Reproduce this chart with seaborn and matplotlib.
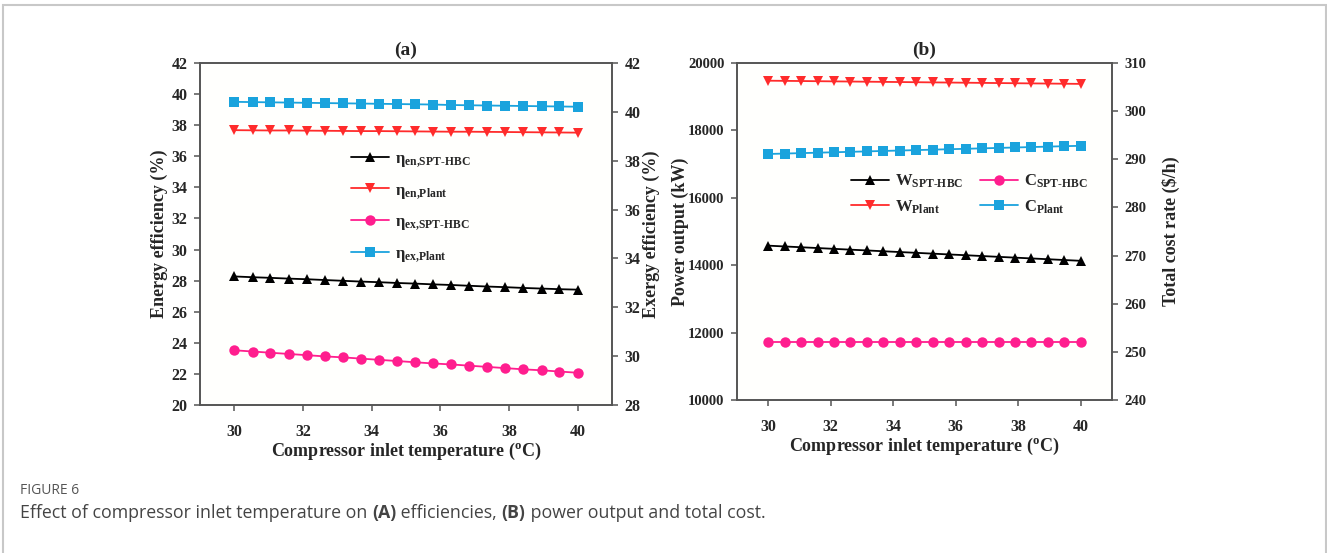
import matplotlib
matplotlib.use("Agg")
import matplotlib.pyplot as plt
from matplotlib.patches import Rectangle
import seaborn as sns
import pandas as pd

# ---------------- data ----------------
temp = [30.00, 30.53, 31.05, 31.58, 32.11, 32.63, 33.16, 33.68, 34.21, 34.74,
        35.26, 35.79, 36.32, 36.84, 37.37, 37.89, 38.42, 38.95, 39.47, 40.00]

eta_en_spt = [28.27, 28.22, 28.18, 28.13, 28.09, 28.04, 27.99, 27.94, 27.90, 27.85,
              27.81, 27.76, 27.72, 27.67, 27.62, 27.58, 27.53, 27.49, 27.45, 27.42]
eta_en_plant = [37.68, 37.67, 37.66, 37.66, 37.65, 37.64, 37.63, 37.62, 37.62, 37.61,
                37.60, 37.59, 37.58, 37.58, 37.57, 37.56, 37.55, 37.54, 37.53, 37.52]
eta_ex_spt = [30.24, 30.19, 30.14, 30.09, 30.04, 29.99, 29.95, 29.90, 29.85, 29.80,
              29.75, 29.70, 29.66, 29.61, 29.56, 29.51, 29.46, 29.42, 29.37, 29.32]
eta_ex_plant = [40.41, 40.40, 40.39, 40.38, 40.37, 40.36, 40.35, 40.34, 40.33, 40.32,
                40.31, 40.30, 40.28, 40.27, 40.26, 40.25, 40.24, 40.23, 40.22, 40.21]

w_plant = [19475, 19470, 19465, 19460, 19455, 19450, 19445, 19440, 19435, 19430,
           19425, 19420, 19415, 19410, 19405, 19400, 19395, 19390, 19385, 19380]
w_spt = [14580, 14556, 14533, 14509, 14485, 14461, 14438, 14414, 14390, 14367,
         14343, 14319, 14296, 14272, 14248, 14225, 14201, 14177, 14154, 14130]
c_spt = [252.0, 252.0, 252.0, 252.0, 252.0, 252.0, 252.0, 252.0, 252.0, 252.0,
         252.0, 252.0, 252.0, 252.0, 252.0, 252.0, 252.0, 252.0, 252.0, 252.0]
c_plant = [291.10, 291.19, 291.28, 291.37, 291.46, 291.55, 291.64, 291.73, 291.82, 291.91,
           292.00, 292.09, 292.18, 292.27, 292.36, 292.45, 292.54, 292.63, 292.72, 292.80]

xticks = [30, 32, 34, 36, 38, 40]
ticks_a_left = [20, 22, 24, 26, 28, 30, 32, 34, 36, 38, 40, 42]
ticks_a_right = [28, 30, 32, 34, 36, 38, 40, 42]
ticks_b_left = [10000, 12000, 14000, 16000, 18000, 20000]
ticks_b_right = [240, 250, 260, 270, 280, 290, 300, 310]

HY = "\u2010"  # typographic hyphen for subscripts
lab_en_spt = r"$\eta_{\mathrm{en{,}SPT" + HY + r"HBC}}$"
lab_en_plant = r"$\eta_{\mathrm{en{,}Plant}}$"
lab_ex_spt = r"$\eta_{\mathrm{ex{,}SPT" + HY + r"HBC}}$"
lab_ex_plant = r"$\eta_{\mathrm{ex{,}Plant}}$"
lab_w_spt = r"W$_{\mathrm{SPT" + HY + r"HBC}}$"
lab_w_plant = r"W$_{\mathrm{Plant}}$"
lab_c_spt = r"C$_{\mathrm{SPT" + HY + r"HBC}}$"
lab_c_plant = r"C$_{\mathrm{Plant}}$"

# ---------------- style ----------------
sns.set_style("ticks")
plt.rcParams["font.family"] = ["Liberation Serif", "DejaVu Serif"]
plt.rcParams["font.weight"] = "bold"
plt.rcParams["mathtext.fontset"] = "custom"
plt.rcParams["mathtext.rm"] = "Liberation Serif:bold"
plt.rcParams["mathtext.it"] = "Liberation Serif:bold"
plt.rcParams["mathtext.bf"] = "Liberation Serif:bold"

BLACK = "#000000"
RED = "#FF2B2B"
PINK = "#FF1E8E"
BLUE = "#1AA3DD"
SPINE = "#555555"
FS = 13
TFS_A = 11.5
TFS_B = 10.5
LFS = 12

W, H = 1327, 553
fig = plt.figure(figsize=(W / 100, H / 100), dpi=100)
fig.patch.set_facecolor("white")

def frac(l, t, r, b):
    return [l / W, 1 - b / H, (r - l) / W, (b - t) / H]

ax_a = fig.add_axes(frac(200, 63, 612, 405))
ax_b = fig.add_axes(frac(737, 63, 1112, 400))

df = pd.DataFrame({
    "T": temp, "en_spt": eta_en_spt, "en_plant": eta_en_plant,
    "ex_spt": eta_ex_spt, "ex_plant": eta_ex_plant,
    "w_plant": w_plant, "w_spt": w_spt, "c_spt": c_spt, "c_plant": c_plant,
})

line_kw = dict(linewidth=1.3, markersize=7.5, markeredgewidth=0)

def style_axes(ax, twin, tfs):
    for a in (ax, twin):
        a.set_facecolor("#FFFFFD")
        for s in a.spines.values():
            s.set_color(SPINE)
            s.set_linewidth(1.2)
            s.set_visible(True)
        a.tick_params(direction="out", length=4, width=1.1, color=SPINE,
                      labelsize=tfs, pad=5)
        a.tick_params(axis="x", pad=10, labelsize=11.5)
        for lab in a.get_xticklabels() + a.get_yticklabels():
            lab.set_fontweight("bold")
    twin.patch.set_visible(False)

# ---------------- panel (a) ----------------
ax_a2 = ax_a.twinx()
sns.lineplot(data=df, x="T", y="en_spt", ax=ax_a, color=BLACK, marker="^",
             label=lab_en_spt, **line_kw)
sns.lineplot(data=df, x="T", y="en_plant", ax=ax_a, color=RED, marker="v",
             label=lab_en_plant, **line_kw)
sns.lineplot(data=df, x="T", y="ex_spt", ax=ax_a2, color=PINK, marker="o",
             label=lab_ex_spt, **line_kw)
sns.lineplot(data=df, x="T", y="ex_plant", ax=ax_a2, color=BLUE, marker="s",
             label=lab_ex_plant, **line_kw)
ax_a.set_xlim(29, 41)
ax_a.set_ylim(20, 42)
ax_a2.set_ylim(28, 42)
ax_a.set_xticks(xticks)
ax_a.set_yticks(ticks_a_left)
ax_a2.set_yticks(ticks_a_right)
ax_a.set_xlabel(r"Compressor inlet temperature ($^{\mathrm{o}}$C)", fontsize=FS,
                fontweight="bold", labelpad=0)
ax_a.set_ylabel("Energy efficiency (%)", fontsize=FS, fontweight="bold")
ax_a2.set_ylabel("Exergy efficiency (%)", fontsize=FS, fontweight="bold",
                 rotation=90)
ax_a.yaxis.set_label_coords(-0.078, 0.5)
ax_a2.yaxis.set_label_coords(1.075, 0.5)
ax_a.set_title("(a)", fontsize=14, fontweight="bold", pad=6)
style_axes(ax_a, ax_a2, TFS_A)

h1, l1 = ax_a.get_legend_handles_labels()
h2, l2 = ax_a2.get_legend_handles_labels()
if ax_a.get_legend():
    ax_a.get_legend().remove()
if ax_a2.get_legend():
    ax_a2.get_legend().remove()
ax_a2.legend(h1 + h2, l1 + l2, loc="upper left", bbox_to_anchor=(0.35, 0.763),
             frameon=False, fontsize=LFS, labelspacing=0.8, handlelength=2.3,
             handletextpad=0.35, borderaxespad=0)

# ---------------- panel (b) ----------------
ax_b2 = ax_b.twinx()
sns.lineplot(data=df, x="T", y="w_spt", ax=ax_b, color=BLACK, marker="^",
             label=lab_w_spt, **line_kw)
sns.lineplot(data=df, x="T", y="w_plant", ax=ax_b, color=RED, marker="v",
             label=lab_w_plant, **line_kw)
sns.lineplot(data=df, x="T", y="c_spt", ax=ax_b2, color=PINK, marker="o",
             label=lab_c_spt, **line_kw)
sns.lineplot(data=df, x="T", y="c_plant", ax=ax_b2, color=BLUE, marker="s",
             label=lab_c_plant, **line_kw)
ax_b.set_xlim(29, 41)
ax_b.set_ylim(10000, 20000)
ax_b2.set_ylim(240, 310)
ax_b.set_xticks(xticks)
ax_b.set_yticks(ticks_b_left)
ax_b2.set_yticks(ticks_b_right)
ax_b.set_xlabel(r"Compressor inlet temperature ($^{\mathrm{o}}$C)", fontsize=FS,
                fontweight="bold", labelpad=0)
ax_b.set_ylabel("Power output (kW)", fontsize=FS, fontweight="bold")
ax_b2.set_ylabel("Total cost rate (\\$/h)", fontsize=FS, fontweight="bold",
                 rotation=90)
ax_b.yaxis.set_label_coords(-0.127, 0.5)
ax_b2.yaxis.set_label_coords(1.133, 0.5)
ax_b.set_title("(b)", fontsize=14, fontweight="bold", pad=6)
style_axes(ax_b, ax_b2, TFS_B)

h1, l1 = ax_b.get_legend_handles_labels()
h2, l2 = ax_b2.get_legend_handles_labels()
if ax_b.get_legend():
    ax_b.get_legend().remove()
if ax_b2.get_legend():
    ax_b2.get_legend().remove()
ax_b2.legend(h1 + h2, l1 + l2, loc="upper left", bbox_to_anchor=(0.285, 0.695),
             ncol=2, frameon=False, fontsize=LFS, labelspacing=0.5, handlelength=2.3,
             handletextpad=0.35, columnspacing=1.0, borderaxespad=0)

# ---------------- frame & caption ----------------
fig.add_artist(Rectangle((3 / W, -0.05), (1326 - 3) / W, 1.05 - 5 / H,
                         transform=fig.transFigure, fill=False,
                         edgecolor="#C8C8C8", linewidth=1.5))

fig.text(20 / W, 1 - 490 / H, "FIGURE 6", fontsize=10, color="#555555",
         family="Open Sans", va="center", ha="left", fontweight="normal")

parts = [("Effect of compressor inlet temperature on ", "normal"),
         ("(A)", "bold"), (" efficiencies, ", "normal"), ("(B)", "bold"),
         (" power output and total cost.", "normal")]
fig.canvas.draw()
renderer = fig.canvas.get_renderer()
x = 20
for txt, wt in parts:
    t = fig.text(x / W, 1 - 513 / H, txt, fontsize=12.8, color="#444444",
                 family="Open Sans", fontweight=wt, va="center", ha="left")
    bb = t.get_window_extent(renderer=renderer)
    x += bb.width

fig.savefig("out.png", dpi=100, facecolor="white")
